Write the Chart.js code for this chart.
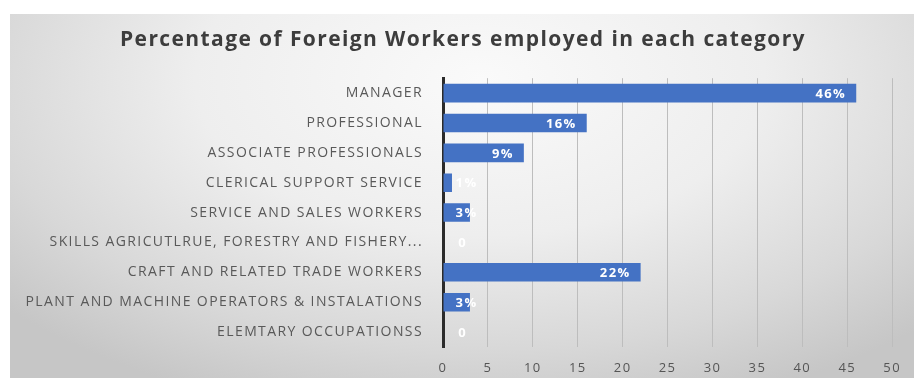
<!DOCTYPE html>
<html>
<head>
<meta charset="utf-8">
<script src="https://cdn.jsdelivr.net/npm/chart.js@4"></script>
<style>
  html, body { margin: 0; padding: 0; background: #fff; }
  #wrap {
    position: relative;
    width: 914px;
    height: 378px;
    overflow: hidden;
  }
  #panel {
    position: absolute;
    left: 10px; top: 14px; right: 0; bottom: 0;
    background: radial-gradient(ellipse 70% 95% at 52% 18%, #fafafa 0%, #eeeeee 45%, #d8d8d8 78%, #c6c6c6 100%);
  }
  #chart { position: absolute; left: 0; top: 0; }
</style>
</head>
<body>
<div id="wrap">
  <div id="panel"></div>
  <canvas id="chart" width="914" height="378"></canvas>
</div>
<script>
// Share of foreign workers by occupation group
const categories = [
  'MANAGER',
  'PROFESSIONAL',
  'ASSOCIATE PROFESSIONALS',
  'CLERICAL SUPPORT SERVICE',
  'SERVICE AND SALES WORKERS',
  'SKILLS AGRICUTLRUE, FORESTRY AND FISHERY...',
  'CRAFT AND RELATED TRADE WORKERS',
  'PLANT AND MACHINE OPERATORS & INSTALATIONS',
  'ELEMTARY OCCUPATIONSS'
];
const percentages = [46, 16, 9, 1, 3, 0, 22, 3, 0];
const xTicks = [0, 5, 10, 15, 20, 25, 30, 35, 40, 45, 50];

const AXIS_X = 443;
const FONT = '"Open Sans", sans-serif';

// slightly wider letter spacing for every piece of text on the canvas
const spacing = {
  id: 'spacing',
  beforeLayout(chart) { chart.ctx.letterSpacing = '1.4px'; },
  beforeDraw(chart) { chart.ctx.letterSpacing = '1.4px'; }
};

// centre the title over the panel rather than over the padded box
const titleSpan = {
  id: 'titleSpan',
  afterLayout(chart) {
    const t = chart.titleBlock;
    if (t) { t.left = 33; t.right = 893; }
  }
};

// white value labels near the end of each bar
const barLabels = {
  id: 'barLabels',
  afterDatasetsDraw(chart) {
    const ctx = chart.ctx;
    const meta = chart.getDatasetMeta(0);
    ctx.save();
    ctx.font = 'bold 13px ' + FONT;
    ctx.fillStyle = '#ffffff';
    ctx.textAlign = 'right';
    ctx.textBaseline = 'middle';
    meta.data.forEach((bar, i) => {
      const v = percentages[i];
      const txt = v === 0 ? '0' : v + '%';
      const x = Math.max(bar.x - 10, bar.base + (v === 0 ? 24 : 34));
      ctx.fillText(txt, x, bar.y + 1);
    });
    ctx.restore();
  }
};

new Chart(document.getElementById('chart'), {
  type: 'bar',
  data: {
    labels: categories,
    datasets: [{
      data: percentages,
      backgroundColor: '#4472c4',
      barPercentage: 0.62,
      categoryPercentage: 1
    }]
  },
  options: {
    indexAxis: 'y',
    responsive: false,
    animation: false,
    layout: { padding: { left: 0, right: 21, top: 0, bottom: 0 } },
    plugins: {
      legend: { display: false },
      tooltip: { enabled: false },
      title: {
        display: true,
        text: 'Percentage of Foreign Workers employed in each category',
        color: '#3d3d3d',
        font: { family: FONT, size: 21, weight: 'bold' },
        padding: { top: 27, bottom: 26 }
      }
    },
    scales: {
      x: {
        min: 0,
        max: 50,
        afterBuildTicks(scale) { scale.ticks = xTicks.map(v => ({ value: v })); },
        afterFit(scale) { scale.height = 31; },
        grid: { color: '#bdbdbd', lineWidth: 1, drawTicks: false },
        border: { display: false },
        ticks: {
          color: '#555555',
          padding: 13,
          font: { family: FONT, size: 13 }
        }
      },
      y: {
        afterFit(scale) { scale.width = AXIS_X; },
        grid: { display: false, drawTicks: false },
        border: { display: true, color: '#2b2b2b', width: 3 },
        ticks: {
          color: '#595959',
          padding: 20,
          autoSkip: false,
          font: { family: FONT, size: 14 }
        }
      }
    }
  },
  plugins: [spacing, titleSpan, barLabels]
});
</script>
</body>
</html>
